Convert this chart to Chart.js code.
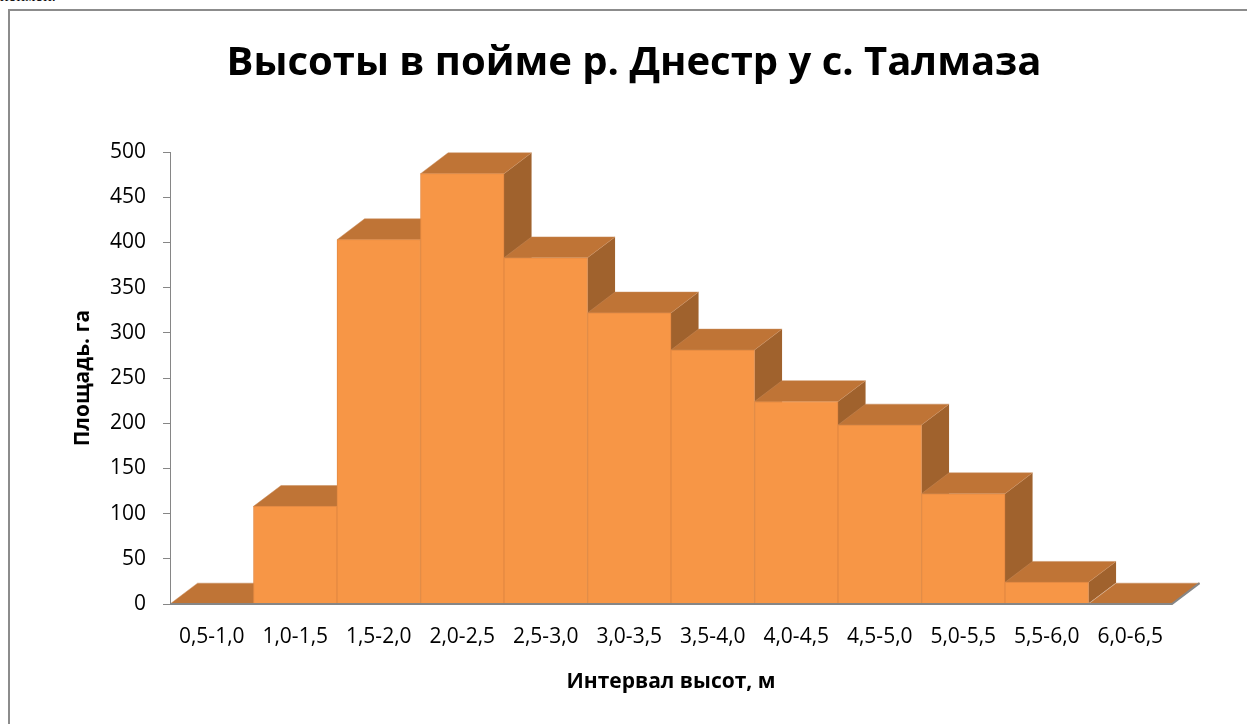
<!DOCTYPE html>
<html>
<head>
<meta charset="utf-8">
<script src="https://cdn.jsdelivr.net/npm/chart.js@4"></script>
<style>
  html, body { margin: 0; padding: 0; background: #fff; overflow: hidden; }
  #frame {
    position: absolute; left: 8px; top: 9px; width: 1300px; height: 740px;
    border: 2px solid #8c8c8c; box-sizing: border-box;
  }
  #cut {
    position: absolute; left: 0; top: -13px;
    font: 16px "Liberation Serif", serif; color: #000;
  }
  #chart { position: absolute; left: 0; top: 0; }
</style>
</head>
<body>
<div id="cut">поймой.</div>
<div id="frame"></div>
<canvas id="chart" width="1247" height="724"></canvas>
<script>
// interval labels and area per interval (ha)
const intervals = ["0,5-1,0", "1,0-1,5", "1,5-2,0", "2,0-2,5", "2,5-3,0", "3,0-3,5",
                   "3,5-4,0", "4,0-4,5", "4,5-5,0", "5,0-5,5", "5,5-6,0", "6,0-6,5"];
const areas = [0, 108, 403, 476, 383, 322, 281, 224, 198, 122, 24, 0];
const yTicks = [0, 50, 100, 150, 200, 250, 300, 350, 400, 450, 500];

const FRONT = "#F79646";
const TOP = "#BF7436";
const SIDE = "#A0622D";
const AXIS = "#868686";
const FONT = "'Open Sans', 'Noto Sans', sans-serif";

// draws the top and right faces of every column, fronts are drawn by chart.js on top
const boxes3d = {
  id: "boxes3d",
  beforeDatasetsDraw(chart) {
    const ctx = chart.ctx;
    const bars = chart.getDatasetMeta(0).data;
    if (!bars.length) return;
    const w = bars[0].width;
    const dx = w * 0.33, dy = w * 0.25;
    ctx.save();
    // side faces
    bars.forEach(b => {
      const r = b.x + b.width / 2;
      ctx.beginPath();
      ctx.moveTo(r, b.y);
      ctx.lineTo(r + dx, b.y - dy);
      ctx.lineTo(r + dx, b.base - dy);
      ctx.lineTo(r, b.base);
      ctx.closePath();
      ctx.fillStyle = SIDE;
      ctx.fill();
    });
    // top faces
    bars.forEach(b => {
      const l = b.x - b.width / 2, r = b.x + b.width / 2;
      ctx.beginPath();
      ctx.moveTo(l, b.y);
      ctx.lineTo(l + dx, b.y - dy);
      ctx.lineTo(r + dx, b.y - dy);
      ctx.lineTo(r, b.y);
      ctx.closePath();
      ctx.fillStyle = TOP;
      ctx.fill();
      ctx.strokeStyle = "rgba(200,140,90,0.6)";
      ctx.lineWidth = 0.8;
      ctx.stroke();
    });
    ctx.restore();
  },
  afterDatasetsDraw(chart) {
    // floor edge of the base
    const ctx = chart.ctx;
    const bars = chart.getDatasetMeta(0).data;
    const last = bars[bars.length - 1];
    const w = last.width;
    const x = chart.scales.x, y = chart.scales.y;
    ctx.save();
    ctx.strokeStyle = AXIS;
    ctx.lineWidth = 2;
    ctx.beginPath();
    ctx.moveTo(x.left, y.bottom);
    ctx.lineTo(last.x + w / 2, y.bottom);
    ctx.lineTo(last.x + w / 2 + w * 0.33, y.bottom - w * 0.25);
    ctx.stroke();
    ctx.restore();
  }
};

new Chart(document.getElementById("chart"), {
  type: "bar",
  data: {
    labels: intervals,
    datasets: [{
      data: areas,
      backgroundColor: FRONT,
      borderColor: "#E58A42",
      borderWidth: 1,
      categoryPercentage: 1,
      barPercentage: 1
    }]
  },
  options: {
    responsive: false,
    animation: false,
    devicePixelRatio: 1,
    // left padding shifts the title centre to match the original
    layout: { padding: { left: 96, right: 75, top: 0, bottom: 0 } },
    plugins: {
      legend: { display: false },
      tooltip: { enabled: false },
      title: {
        display: true,
        text: "Высоты в пойме р. Днестр у с. Талмаза",
        color: "#000",
        font: { family: FONT, size: 40, weight: "bold", lineHeight: 1.2 },
        padding: { top: 40, bottom: 64 }
      }
    },
    scales: {
      x: {
        grid: { display: false, drawTicks: false },
        border: { display: false },
        ticks: { color: "#000", padding: 20, maxRotation: 0, autoSkip: false,
                 font: { family: FONT, size: 21 } },
        title: { display: true, text: "Интервал высот, м", color: "#000",
                 font: { family: FONT, size: 21, weight: "bold", lineHeight: 1.2 },
                 padding: { bottom: 29 } },
        afterFit: s => { s.height = 120; }
      },
      y: {
        min: 0, max: 500,
        afterBuildTicks: s => { s.ticks = yTicks.map(v => ({ value: v })); },
        grid: { drawOnChartArea: false, drawTicks: true, tickLength: 7, color: AXIS },
        border: { display: true, color: AXIS, width: 1 },
        ticks: { color: "#000", padding: 17, font: { family: FONT, size: 21 } },
        title: { display: true, text: "Площадь. га", color: "#000",
                 font: { family: FONT, size: 21, weight: "bold", lineHeight: 1.2 },
                 padding: { top: -25.6 } },
        afterFit: s => { s.width = 74; }
      }
    }
  },
  plugins: [boxes3d]
});
</script>
</body>
</html>
